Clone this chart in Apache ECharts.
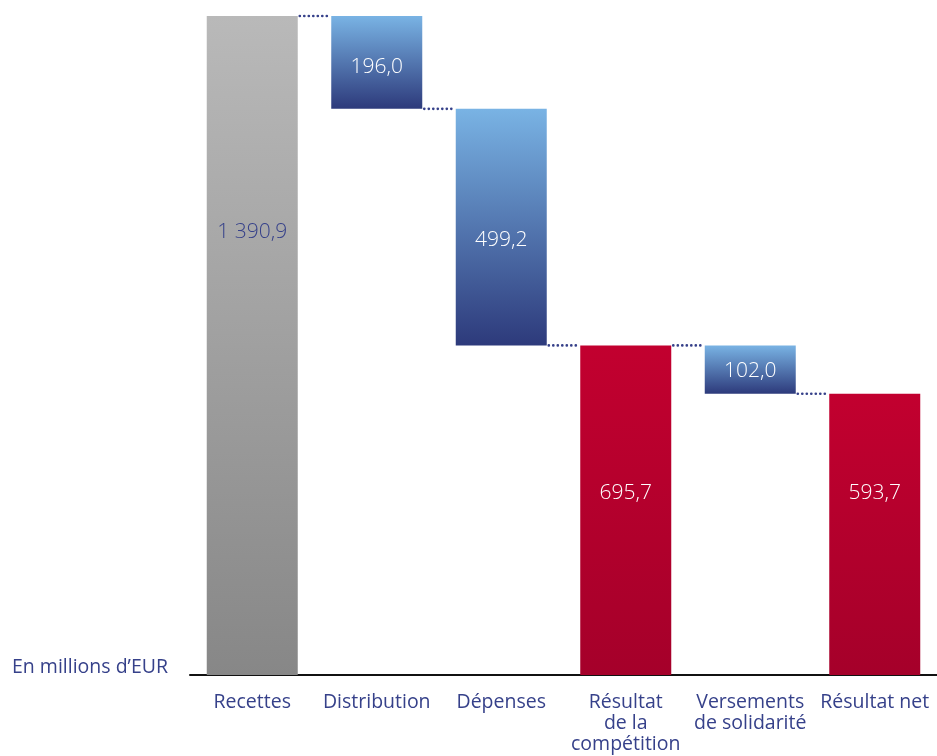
<!DOCTYPE html>
<html>
<head>
<meta charset="utf-8">
<script src="https://cdn.jsdelivr.net/npm/echarts@6/dist/echarts.min.js"></script>
<style>html,body{margin:0;padding:0;background:#fff;}#c{width:937px;height:756px;}</style>
</head>
<body>
<div id="c"></div>
<script>
const categories = ['Recettes', 'Distribution', 'Dépenses', 'Résultat\nde la\ncompétition', 'Versements\nde solidarité', 'Résultat net'];
const values = [1390.9, 196.0, 499.2, 695.7, 102.0, 593.7];
const bases = [0, 1194.9, 695.7, 0, 593.7, 0];
const kinds = ['gray', 'blue', 'blue', 'red', 'blue', 'red'];
const connectorLevels = [1390.9, 1194.9, 695.7, 695.7, 593.7];
const unitLabel = 'En millions d\u2019EUR';

const NAVY = '#36418a';
const BAR_W = 91;
const labelOffsets = [[0, -113], [0, 5], [0, 13], [0, -17], [0, 1], [0, -41]];
const gradients = {
  gray: new echarts.graphic.LinearGradient(0, 0, 0, 1, [{offset: 0, color: '#b9b9b9'}, {offset: 1, color: '#878787'}]),
  blue: new echarts.graphic.LinearGradient(0, 0, 0, 1, [{offset: 0, color: '#79b3e4'}, {offset: 1, color: '#2d3a7b'}]),
  red: new echarts.graphic.LinearGradient(0, 0, 0, 1, [{offset: 0, color: '#c2002f'}, {offset: 1, color: '#a5002a'}])
};
function fmt(v) {
  const s = v.toFixed(1).split('.');
  return s[0].replace(/\B(?=(\d{3})+(?!\d))/g, ' ') + ',' + s[1];
}

const chart = echarts.init(document.getElementById('c'));
chart.setOption({
  animation: false,
  backgroundColor: '#fff',
  grid: {left: 190, width: 750, top: 16, bottom: 81, containLabel: false},
  xAxis: {
    type: 'category',
    data: categories,
    axisLine: {lineStyle: {color: '#111', width: 2}},
    axisTick: {show: false},
    axisLabel: {color: NAVY, fontSize: 19.5, fontWeight: 500, fontFamily: 'Open Sans', margin: 17, lineHeight: 21, interval: 0}
  },
  yAxis: {type: 'value', min: 0, max: 1390.9, show: false, splitLine: {show: false}},
  graphic: [{
    type: 'text', left: 12, top: 657,
    style: {text: unitLabel, fill: NAVY, font: '500 19.5px "Open Sans"'}
  }],
  series: [
    {
      type: 'bar', stack: 'w', barWidth: BAR_W, silent: true,
      itemStyle: {color: 'transparent'},
      data: bases
    },
    {
      type: 'bar', stack: 'w', barWidth: BAR_W,
      data: values.map((v, i) => ({
        value: v,
        itemStyle: {color: gradients[kinds[i]]},
        label: {color: kinds[i] === 'gray' ? NAVY : '#ffffff', offset: labelOffsets[i]}
      })),
      label: {
        show: true, position: 'inside', fontSize: 21, fontWeight: 300, fontFamily: 'Open Sans',
        formatter: p => fmt(p.value)
      }
    },
    {
      type: 'custom',
      data: connectorLevels.map((l, i) => [i, l]),
      renderItem: function (params, api) {
        const i = api.value(0), l = api.value(1);
        const p1 = api.coord([i, l]);
        const p2 = api.coord([i + 1, l]);
        return {
          type: 'line',
          shape: {x1: p1[0] + BAR_W / 2 + 2, y1: p1[1], x2: p2[0] - BAR_W / 2 - 1, y2: p2[1]},
          style: {stroke: NAVY, lineWidth: 2.6, lineDash: [0.1, 4.4], lineCap: 'round'}
        };
      },
      z: 5
    }
  ]
});
</script>
</body>
</html>
